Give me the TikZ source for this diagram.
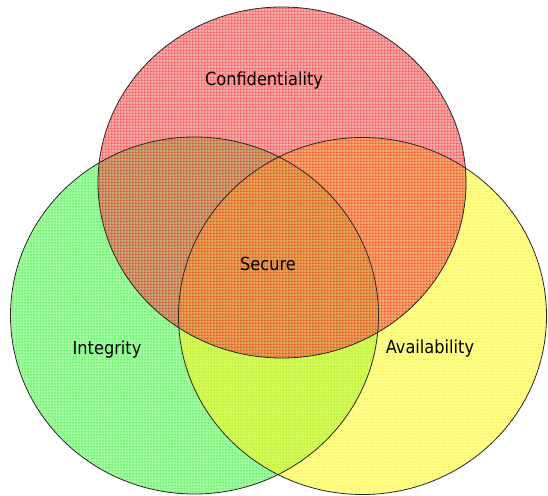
\documentclass[tikz,border=0pt]{standalone}
\usepackage{fontspec}
\setmainfont{DejaVu Sans Condensed}
\usetikzlibrary{patterns.meta}

\definecolor{conffill}{RGB}{245,80,80}
\definecolor{confline}{RGB}{235,10,10}
\definecolor{integfill}{RGB}{80,248,80}
\definecolor{integline}{RGB}{10,230,10}
\definecolor{availfill}{RGB}{255,255,35}
\definecolor{availline}{RGB}{240,225,5}

% one grid per set, shifted so the lines of two sets sit side by side
\newcommand\declaremesh[2]{%
  \tikzdeclarepattern{
    name=#1,
    type=uncolored,
    bounding box={(0pt,0pt) and (3pt,3pt)},
    tile size={(3pt,3pt)},
    code={
      \draw[line width=.6pt] (0pt,#2) -- (3pt,#2) (#2,0pt) -- (#2,3pt);
    }
  }}
\declaremesh{confmesh}{0.5pt}
\declaremesh{integmesh}{1.5pt}
\declaremesh{availmesh}{2.5pt}

\tikzset{
  setarea/.style={fill opacity=0.5},
  setedge/.style={draw=black!85, line width=0.8pt},
  mesh/.style 2 args={postaction={pattern=#1, pattern color=#2}},
  setlabel/.style={font=\fontsize{18}{18}\selectfont, anchor=base, inner sep=0pt},
}

\begin{document}
\begin{tikzpicture}[line cap=round,line join=round,x=1pt,y=-1pt]
  \useasboundingbox (0,0) rectangle (548,495);
  % the three sets
  \path[setarea, fill=integfill, mesh={integmesh}{integline}]
    (194.5,315.5) ellipse [x radius=184pt, y radius=178.5pt];
  \path[setarea, fill=availfill, mesh={availmesh}{availline}]
    (362.5,316) ellipse [x radius=184pt, y radius=178.5pt];
  \path[setarea, fill=conffill, mesh={confmesh}{confline}]
    (282,182.5) ellipse [x radius=184pt, y radius=175.5pt];
  % outlines
  \draw[setedge] (194.5,315.5) ellipse [x radius=184pt, y radius=178.5pt];
  \draw[setedge] (362.5,316) ellipse [x radius=184pt, y radius=178.5pt];
  \draw[setedge] (282,182.5) ellipse [x radius=184pt, y radius=175.5pt];
  % labels
  \node[setlabel] (conf) at (264,85) {Confidentiality};
  \node[setlabel] (secure) at (268,270) {Secure};
  \node[setlabel] (integ) at (107,354) {Integrity};
  \node[setlabel] (avail) at (430,353) {Availability};
\end{tikzpicture}
\end{document}
